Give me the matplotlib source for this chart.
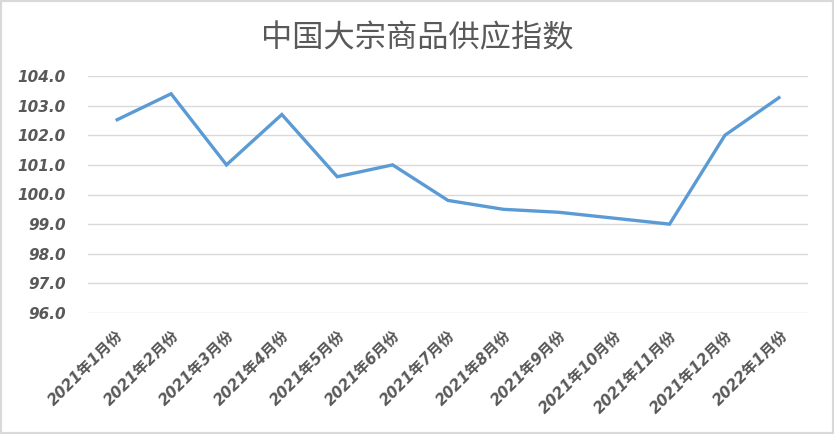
import matplotlib
matplotlib.use("Agg")
import matplotlib.pyplot as plt
from matplotlib.patches import Rectangle

categories = ["2021年1月份", "2021年2月份", "2021年3月份", "2021年4月份", "2021年5月份",
              "2021年6月份", "2021年7月份", "2021年8月份", "2021年9月份", "2021年10月份",
              "2021年11月份", "2021年12月份", "2022年1月份"]
values = [102.5, 103.4, 101.0, 102.7, 100.6, 101.0, 99.8, 99.5, 99.4, 99.2, 99.0, 102.0, 103.3]
yticks = [96.0, 97.0, 98.0, 99.0, 100.0, 101.0, 102.0, 103.0, 104.0]
title = "中国大宗商品供应指数"

plt.rcParams['font.family'] = ['DejaVu Sans', 'Noto Sans CJK SC']

fig = plt.figure(figsize=(8.34, 4.34), dpi=100)
ax = fig.add_axes([88/834, 1 - 313/434, (808-88)/834, (313-76)/434])

x = list(range(len(categories)))
ax.plot(x, values, color="#5B9BD5", lw=2.4, solid_joinstyle='miter', solid_capstyle='butt')
ax.set_xlim(-0.5, len(categories) - 0.5)
ax.set_ylim(96, 104)
ax.set_yticks(yticks)
ax.set_yticklabels([f"{v:.1f}" for v in yticks], fontsize=11, fontstyle='italic',
                   fontweight='bold', color="#595959")
ax.set_xticks(x)
ax.set_xticklabels(categories, rotation=45, ha='right', va='top', rotation_mode='anchor',
                   fontsize=11, fontstyle='italic', fontweight='bold', color="#595959")
ax.tick_params(axis='y', length=0, pad=16)
ax.tick_params(axis='x', length=0, pad=11)
ax.grid(axis='y', color="#D9D9D9", lw=1)
ax.set_axisbelow(True)
for s in ax.spines.values():
    s.set_visible(False)

fig.text(0.5, 1 - 38/434, title, ha='center', va='center', fontsize=22.5,
         color="#595959", family=['Noto Sans CJK SC'], fontweight='light')

fig.patches.append(Rectangle((0, 0), 1, 1, transform=fig.transFigure, fill=False,
                             edgecolor="#D9D9D9", lw=3))

fig.savefig("out.png", dpi=100)
